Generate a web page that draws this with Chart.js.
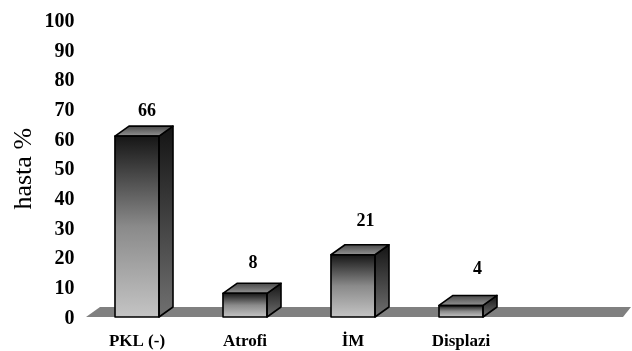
<!DOCTYPE html>
<html><head><meta charset="utf-8">
<style>html,body{margin:0;padding:0;background:#fff}#w{width:632px;height:351px;position:relative}</style>
<script src="https://cdn.jsdelivr.net/npm/chart.js@4"></script></head>
<body><div id="w"><canvas id="c" width="632" height="351"></canvas></div>
<script>
const categories = ['PKL (-)', 'Atrofi', 'İM', 'Displazi', ''];
const barHeights = [61, 8, 21, 3.9, null];
const valueLabels = ['66', '8', '21', '4', ''];
const tickStep = 10;
const axisMax = 100;
const axisTitle = 'hasta %';
// style
const depthX = 14, depthY = 10;
const labelNudge = [[10, -15], [8, -20], [12.5, -23], [16.5, -26], [0, 0]];
const SERIF = '"Liberation Serif","Times New Roman",serif';

function grad(ctx, y0, y1, stops) {
  const g = ctx.createLinearGradient(0, y0, 0, y1);
  stops.forEach((c, i) => g.addColorStop(i / (stops.length - 1), c));
  return g;
}
const threeD = {
  id: 'threeD',
  beforeDatasetsDraw(chart) {
    const { ctx, chartArea: a, scales: { y } } = chart;
    const b = y.getPixelForValue(0);
    ctx.save();
    ctx.fillStyle = '#808080';
    ctx.beginPath();
    ctx.moveTo(a.left + 3, b);
    ctx.lineTo(a.left + 3 + depthX, b - depthY);
    ctx.lineTo(a.right + 8, b - depthY);
    ctx.lineTo(a.right, b);
    ctx.closePath();
    ctx.fill();
    ctx.restore();
  },
  afterDatasetsDraw(chart) {
    const { ctx } = chart;
    const bars = chart.getDatasetMeta(0).data;
    bars.forEach((el, i) => {
      if (barHeights[i] == null) return;
      const l = el.x - el.width / 2, r = el.x + el.width / 2, t = el.y, b = el.base;
      ctx.save();
      ctx.lineWidth = 1.6;
      ctx.strokeStyle = '#000';
      ctx.lineJoin = 'round';
      // side face
      ctx.fillStyle = grad(ctx, t - depthY, b, ['#141414', '#707070']);
      ctx.beginPath();
      ctx.moveTo(r, t); ctx.lineTo(r + depthX, t - depthY);
      ctx.lineTo(r + depthX, b - depthY); ctx.lineTo(r, b);
      ctx.closePath(); ctx.fill(); ctx.stroke();
      // top face
      ctx.fillStyle = grad(ctx, t - depthY, t, ['#4a4a4a', '#929292']);
      ctx.beginPath();
      ctx.moveTo(l, t); ctx.lineTo(l + depthX, t - depthY);
      ctx.lineTo(r + depthX, t - depthY); ctx.lineTo(r, t);
      ctx.closePath(); ctx.fill(); ctx.stroke();
      // front outline
      ctx.beginPath();
      ctx.rect(l, t, r - l, b - t);
      ctx.stroke();
      ctx.restore();
      // value label
      ctx.save();
      ctx.font = 'bold 18px ' + SERIF;
      ctx.fillStyle = '#000';
      ctx.textAlign = 'center';
      ctx.textBaseline = 'middle';
      ctx.fillText(valueLabels[i], el.x + labelNudge[i][0], t - depthY + labelNudge[i][1]);
      ctx.restore();
    });
  }
};
new Chart(document.getElementById('c'), {
  type: 'bar',
  data: {
    labels: categories,
    datasets: [{
      data: barHeights,
      barThickness: 44,
      borderWidth: 0,
      backgroundColor(c) {
        const ch = c.chart;
        if (!ch.chartArea || c.raw == null) return '#999';
        const y = ch.scales.y;
        return grad(ch.ctx, y.getPixelForValue(c.raw), y.getPixelForValue(0), ['#161616', '#8a8a8a', '#c4c4c4']);
      }
    }]
  },
  options: {
    responsive: false,
    animation: false,
    layout: { padding: { top: 17, right: 9, left: 0, bottom: 0 } },
    plugins: { legend: { display: false }, tooltip: { enabled: false } },
    scales: {
      x: {
        grid: { display: false },
        border: { display: false },
        ticks: { color: '#000', font: { family: SERIF, weight: 'bold', size: 17 }, padding: 6, maxRotation: 0, autoSkip: false },
        afterFit(s) { s.height = 34; }
      },
      y: {
        min: 0, max: axisMax,
        grid: { display: false, drawTicks: false },
        border: { display: false },
        ticks: { stepSize: tickStep, color: '#000', padding: 8.5, labelOffset: 1.5, font: { family: SERIF, weight: 'bold', size: 20 } },
        title: { display: true, text: axisTitle, color: '#000', font: { family: SERIF, size: 26 }, padding: { top: 9, bottom: 0 } },
        afterFit(s) { s.width = 83; }
      }
    }
  },
  plugins: [threeD]
});
</script></body></html>
